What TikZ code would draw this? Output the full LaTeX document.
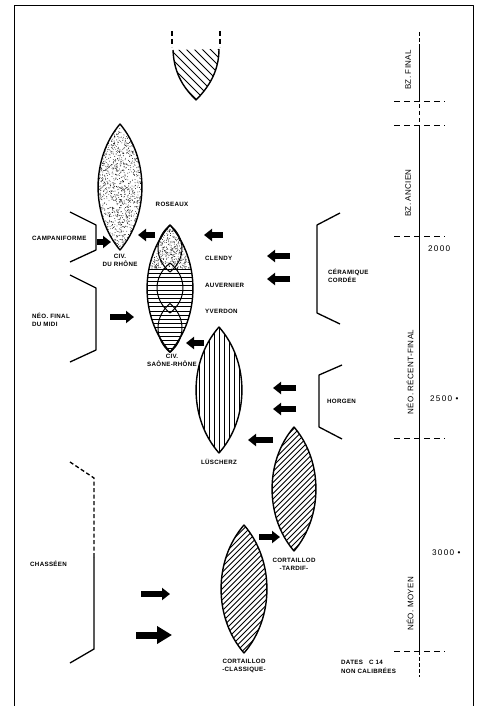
\documentclass[tikz,border=0pt]{standalone}
\usepackage{fontspec}
\setmainfont{Liberation Sans}
\newfontfamily\lblfont[LetterSpace=5]{Liberation Sans}
\newfontfamily\erafont[LetterSpace=4]{Liberation Sans}
\newfontfamily\datefont[LetterSpace=15]{Liberation Sans}
\usetikzlibrary{arrows.meta}

% lens: centre x, centre y, half width, half height
\newcommand{\lens}[4]{(#1,#2-#4) .. controls (#1+1.33*#3,#2-0.45*#4) and (#1+1.33*#3,#2+0.45*#4) .. (#1,#2+#4) .. controls (#1-1.33*#3,#2+0.45*#4) and (#1-1.33*#3,#2-0.45*#4) .. cycle}

\tikzset{
  lbl/.style={font=\lblfont\bfseries\fontsize{6.2}{8.5}\selectfont, inner sep=0pt, align=center},
  era/.style={font=\erafont\fontsize{8}{9}\selectfont, rotate=90, inner sep=0pt},
  datelbl/.style={font=\datefont\fontsize{8.2}{9}\selectfont, inner sep=0pt, anchor=west},
  lensline/.style={line width=1.4pt},
  hatch/.style={line width=0.8pt},
  bracket/.style={line width=1.3pt},
  axis/.style={line width=0.9pt},
  tick/.style={line width=0.9pt, dash pattern=on 6pt off 4pt},
  blockarrow/.style={line width=5.5pt, -{Triangle[length=8pt,width=12pt]}},
  bigarrow/.style={line width=7pt, -{Triangle[length=15pt,width=17pt]}}
}

\begin{document}
\begin{tikzpicture}[x=1pt, y=-1pt, line join=round]
  \useasboundingbox (0,0) rectangle (477,706);
  \fill[white] (0,0) rectangle (477,706);
  \draw[line width=0.9pt] (14,706) -- (14,5) -- (473,5) -- (473,706);
  \pgfmathsetseed{42}

  % time axis
  \draw[axis, dash pattern=on 4pt off 2pt] (419,32) -- (419,46);
  \draw[axis] (419,46) -- (419,101);
  \draw[axis, dash pattern=on 4pt off 3pt] (419,104) -- (419,125);
  \draw[axis] (419,125) -- (419,651);
  \draw[axis, dash pattern=on 4pt off 2pt] (419,651) -- (419,677);
  \foreach \y in {101,125,236,438,651}
    \draw[tick] (394,\y) -- (445,\y);

  \node[era] (bzfinal)   at (408,70)  {BZ. FINAL};
  \node[era] (bzancien)  at (408,193) {BZ. ANCIEN};
  \node[era] (neorecent) at (410,372) {NÉO. RÉCENT-FINAL};
  \node[era] (neomoyen)  at (410,604) {NÉO. MOYEN};
  \node[datelbl] (d2000) at (428,249) {2000};
  \node[datelbl] (d2500) at (430,399) {2500 •};
  \node[datelbl] (d3000) at (432,553) {3000 •};

  % bronze final (top)
  \begin{scope}
    \clip (173,50) .. controls (174,76) and (186,90) .. (196,100) .. controls (208,88) and (219,72) .. (219,49) -- cycle;
    \foreach \k in {-64,-56,...,64}
      \draw[hatch] (196+\k-60,75-60) -- (196+\k+60,75+60);
  \end{scope}
  \draw[lensline] (173,50) .. controls (174,76) and (186,90) .. (196,100) .. controls (208,88) and (219,72) .. (219,49);
  \draw[lensline, dash pattern=on 5pt off 3pt] (172,31) -- (172,47) (220,31) -- (220,47);

  % civ. du Rhone
  \begin{scope}
    \clip \lens{120}{187}{22}{63};
    \foreach \i in {1,...,1400}
      \fill ({120+22*rand},{187+63*rand}) circle[radius=0.42pt];
  \end{scope}
  \draw[lensline] \lens{120}{187}{22}{63};

  % civ. Saone-Rhone
  \begin{scope}
    \clip \lens{170}{288.5}{23}{63.5};
    \clip (140,220) rectangle (200,269);
    \foreach \i in {1,...,650}
      \fill ({170+23*rand},{247+22*rand}) circle[radius=0.42pt];
  \end{scope}
  \begin{scope}
    \clip \lens{170}{288.5}{23}{63.5};
    \foreach \y in {269,273.2,...,353}
      \draw[hatch] (140,\y) -- (200,\y);
  \end{scope}
  \draw[line width=1pt] \lens{170}{248.5}{12}{23.5};
  \draw[line width=1pt] \lens{170}{288}{13}{25};
  \draw[line width=1pt] \lens{170}{328}{12}{24.5};
  \draw[lensline] \lens{170}{288.5}{23}{63.5};

  % Luscherz
  \begin{scope}
    \clip \lens{219}{390}{23}{63};
    \foreach \x in {199,204,...,240}
      \draw[hatch] (\x,320) -- (\x,460);
  \end{scope}
  \draw[lensline] \lens{219}{390}{23}{63};

  % Cortaillod tardif
  \begin{scope}
    \clip \lens{294}{489}{22}{62};
    \foreach \k in {-121,-115.5,...,121}
      \draw[hatch] (294+\k-80,489+80) -- (294+\k+80,489-80);
  \end{scope}
  \draw[lensline] \lens{294}{489}{22}{62};

  % Cortaillod classique
  \begin{scope}
    \clip \lens{244}{589}{23}{64};
    \foreach \k in {-121,-115.5,...,121}
      \draw[hatch] (244+\k-80,589+80) -- (244+\k+80,589-80);
  \end{scope}
  \draw[lensline] \lens{244}{589}{23}{64};

  % brackets
  \draw[bracket] (70,212) -- (96,225) -- (96,250) -- (70,262);
  \draw[bracket] (70,275) -- (96,288) -- (96,350) -- (70,362);
  \draw[bracket, dash pattern=on 4pt off 2.5pt] (70,462) -- (94,478) -- (94,557);
  \draw[bracket] (94,557) -- (94,649) -- (70,663);
  \draw[bracket] (340,213) -- (317,225) -- (317,313) -- (340,324);
  \draw[bracket] (342,365) -- (319,375) -- (319,427) -- (342,439);

  % labels
  \node[lbl] (roseaux) at (172,204) {ROSEAUX};
  \node[lbl] (civrhone) at (120,260.5) {CIV.\\DU RHÔNE};
  \node[lbl] (civsaone) at (172,360.5) {CIV.\\SAÔNE-RHÔNE};
  \node[lbl, anchor=west] (clendy) at (205,258) {CLENDY};
  \node[lbl, anchor=west] (auvernier) at (205,285) {AUVERNIER};
  \node[lbl, anchor=west] (yverdon) at (205,311) {YVERDON};
  \node[lbl, anchor=west, align=left] (ceramique) at (328,276) {CÉRAMIQUE\\CORDÉE};
  \node[lbl, anchor=west] (horgen) at (327,401) {HORGEN};
  \node[lbl] (luscherz) at (219,462) {LÜSCHERZ};
  \node[lbl] (tardif) at (294,564.5) {CORTAILLOD\\-TARDIF-};
  \node[lbl] (classique) at (244,666) {CORTAILLOD\\-CLASSIQUE-};
  \node[lbl, anchor=west] (campan) at (32,238) {CAMPANIFORME};
  \node[lbl, anchor=west, align=left] (neomidi) at (32,320) {NÉO. FINAL\\DU MIDI};
  \node[lbl, anchor=west] (chasseen) at (30,564) {CHASSÉEN};
  \node[lbl, anchor=west, align=left] (dates) at (341,667) {DATES\quad C 14\\NON CALIBRÉES};

  % arrow ends
  \coordinate (campanA) at (97,242);   \coordinate (campanB) at (111,242);
  \coordinate (midiA) at (110,317);    \coordinate (midiB) at (134,317);
  \coordinate (rhoneA) at (155,235);   \coordinate (rhoneB) at (138,235);
  \coordinate (roseauxA) at (223,235); \coordinate (roseauxB) at (204,235);
  \coordinate (cerA) at (290,256);     \coordinate (cerB) at (267,256);
  \coordinate (cordA) at (290,279);    \coordinate (cordB) at (267,279);
  \coordinate (lusA) at (204,343);     \coordinate (lusB) at (186,343);
  \coordinate (horA) at (296,388);     \coordinate (horB) at (273,388);
  \coordinate (genA) at (296,409);     \coordinate (genB) at (273,409);
  \coordinate (tarA) at (273,440);     \coordinate (tarB) at (248,440);
  \coordinate (claA) at (259,537);     \coordinate (claB) at (280,537);
  \coordinate (chaA) at (141,594);     \coordinate (chaB) at (170,594);
  \coordinate (seeA) at (136,635);     \coordinate (seeB) at (172,635);

  \draw[blockarrow] (campanA) -- (campanB);
  \draw[blockarrow] (midiA) -- (midiB);
  \draw[blockarrow] (rhoneA) -- (rhoneB);
  \draw[blockarrow] (roseauxA) -- (roseauxB);
  \draw[blockarrow] (cerA) -- (cerB);
  \draw[blockarrow] (cordA) -- (cordB);
  \draw[blockarrow] (lusA) -- (lusB);
  \draw[blockarrow] (horA) -- (horB);
  \draw[blockarrow] (genA) -- (genB);
  \draw[blockarrow] (tarA) -- (tarB);
  \draw[blockarrow] (claA) -- (claB);
  \draw[blockarrow] (chaA) -- (chaB);
  \draw[bigarrow] (seeA) -- (seeB);
\end{tikzpicture}
\end{document}
